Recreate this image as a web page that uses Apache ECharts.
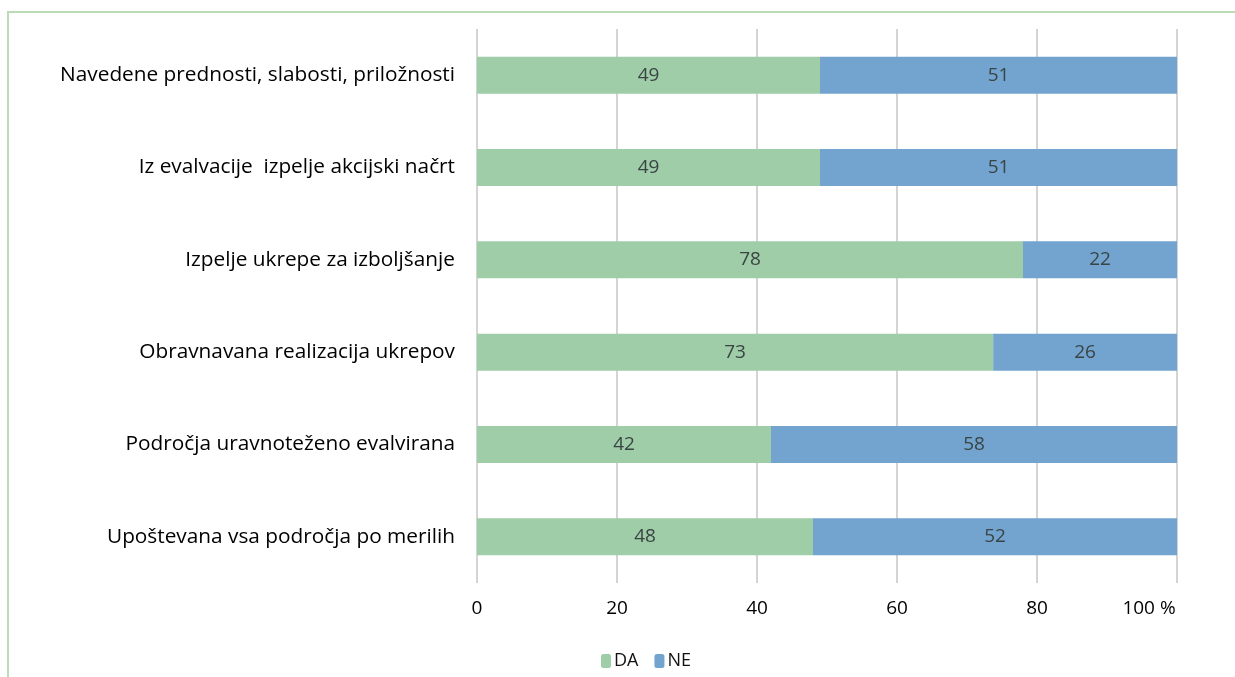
<!DOCTYPE html>
<html>
<head>
<meta charset="utf-8">
<script src="https://cdn.jsdelivr.net/npm/echarts@6/dist/echarts.min.js"></script>
<style>
  html, body { margin: 0; padding: 0; background: #fff; }
  #frame { position: absolute; left: 7px; top: 11px; width: 1240px; height: 680px;
           border-left: 2px solid #bcdcb8; border-top: 2px solid #bcdcb8; box-sizing: border-box; }
  #chart { position: absolute; left: 0; top: 0; width: 1235px; height: 677px; }
</style>
</head>
<body>
<div id="frame"></div>
<div id="chart"></div>
<script>
// Survey items, listed bottom to top as the y axis draws them
const categories = [
  'Upoštevana vsa področja po merilih',
  'Področja uravnoteženo evalvirana',
  'Obravnavana realizacija ukrepov',
  'Izpelje ukrepe za izboljšanje',
  'Iz evalvacije  izpelje akcijski načrt',
  'Navedene prednosti, slabosti, priložnosti'
];
const daValues = [48, 42, 73, 78, 49, 49];
const neValues = [52, 58, 26, 22, 51, 51];
const xTicks = [0, 20, 40, 60, 80, 100];

// each row is shown as a share of its own total (100 % stacked)
function share(vals, i) {
  const total = daValues[i] + neValues[i];
  return vals[i] / total * 100;
}
function seriesData(vals) {
  return vals.map((v, i) => ({ value: share(vals, i), raw: v }));
}

const font = '"Open Sans", Lato, sans-serif';
const chart = echarts.init(document.getElementById('chart'), null, { renderer: 'canvas' });

const labelStyle = {
  show: true,
  position: 'inside',
  color: '#3a4444',
  fontSize: 19,
  fontFamily: font,
  formatter: p => String(p.data.raw)
};

chart.setOption({
  animation: false,
  backgroundColor: 'transparent',
  grid: { left: 477, right: 58, top: 29, bottom: 94, containLabel: false },
  legend: {
    data: ['DA', 'NE'],
    bottom: 2,
    left: 596,
    itemWidth: 10,
    itemHeight: 14,
    itemGap: 16,
    textStyle: { color: '#111', fontSize: 18, fontFamily: font, padding: [0, 0, 0, -2] }
  },
  xAxis: {
    type: 'value',
    min: xTicks[0],
    max: xTicks[xTicks.length - 1],
    interval: xTicks[1] - xTicks[0],
    axisLine: { show: false },
    axisTick: { show: false },
    splitLine: { show: true, lineStyle: { color: '#d4d4d4', width: 2 } },
    axisLabel: {
      margin: 16,
      color: '#000',
      fontSize: 19,
      fontFamily: font,
      formatter: v => v === 100 ? '{last|100 %}' : String(v),
      rich: { last: { fontSize: 19, fontFamily: font, color: '#000', padding: [0, 56, 0, 0] } }
    }
  },
  yAxis: {
    type: 'category',
    data: categories,
    axisLine: { show: false },
    axisTick: { show: false },
    axisLabel: { margin: 22, color: '#000', fontSize: 20.8, fontFamily: font }
  },
  series: [
    {
      name: 'DA', type: 'bar', stack: 'all', barWidth: '40%',
      itemStyle: { color: '#9fcda8' },
      label: labelStyle,
      data: seriesData(daValues)
    },
    {
      name: 'NE', type: 'bar', stack: 'all', barWidth: '40%',
      itemStyle: { color: '#72a4cf' },
      label: labelStyle,
      data: seriesData(neValues)
    }
  ]
});
</script>
</body>
</html>
